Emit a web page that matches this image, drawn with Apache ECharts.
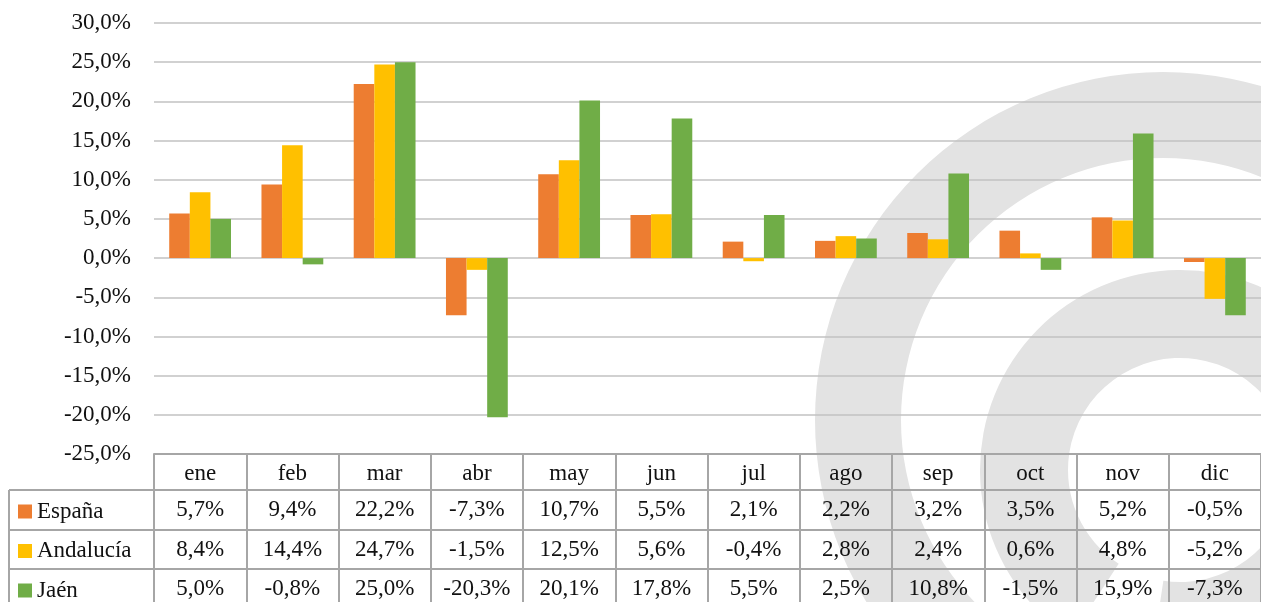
<!DOCTYPE html>
<html>
<head>
<meta charset="utf-8">
<script src="https://cdn.jsdelivr.net/npm/echarts@6/dist/echarts.min.js"></script>
<style>
  html, body { margin: 0; padding: 0; background: #fff; }
  #chart { width: 1261px; height: 602px; }
</style>
</head>
<body>
<div id="chart"></div>
<script>
var months = ['ene', 'feb', 'mar', 'abr', 'may', 'jun', 'jul', 'ago', 'sep', 'oct', 'nov', 'dic'];
var espana = [5.7, 9.4, 22.2, -7.3, 10.7, 5.5, 2.1, 2.2, 3.2, 3.5, 5.2, -0.5];
var andalucia = [8.4, 14.4, 24.7, -1.5, 12.5, 5.6, -0.4, 2.8, 2.4, 0.6, 4.8, -5.2];
var jaen = [5.0, -0.8, 25.0, -20.3, 20.1, 17.8, 5.5, 2.5, 10.8, -1.5, 15.9, -7.3];
var seriesNames = ['España', 'Andalucía', 'Jaén'];
var seriesColors = ['#ED7D31', '#FFC000', '#70AD47'];

var FONT = '"Liberation Serif", "DejaVu Serif", serif';
var FS = 23;
var fmt = function (v) { return v.toFixed(1).replace('.', ',') + '%'; };

var myChart = echarts.init(document.getElementById('chart'));

// table row centres (España, Andalucía, Jaén)
var rowY = [510, 549.5, 589];

// one legend per table row so each sits in its own cell
var legends = seriesNames.map(function (name, r) {
    return {
        orient: 'vertical',
        left: 18,
        top: rowY[r] - 10,
        padding: 0,
        itemWidth: 14,
        itemHeight: 14,
        icon: 'rect',
        selectedMode: false,
        data: [name],
        textStyle: { fontFamily: FONT, fontSize: FS, color: '#111', lineHeight: 20, padding: [0, 0, 0, 0] }
    };
});

var option = {
    animation: false,
    textStyle: { fontFamily: FONT },
    grid: { left: 154, right: 0, top: 23, bottom: 148 },
    legend: legends,
    xAxis: {
        type: 'category',
        data: months,
        axisLine: { onZero: false, lineStyle: { color: '#a6a6a6', width: 2 } },
        axisTick: { show: true, interval: 0, length: 148, lineStyle: { color: '#a6a6a6', width: 2 } },
        axisLabel: { interval: 0, margin: 8, fontFamily: FONT, fontSize: FS, color: '#111' },
        splitLine: { show: false }
    },
    yAxis: {
        type: 'value',
        min: -25,
        max: 30,
        interval: 5,
        axisLine: { show: false },
        axisTick: { show: false },
        axisLabel: {
            margin: 23,
            fontFamily: FONT,
            fontSize: FS,
            color: '#111',
            formatter: function (v) { return fmt(v); }
        },
        splitLine: { lineStyle: { color: '#c2c2c2', width: 1.5 } }
    },
    series: [
        { name: seriesNames[0], type: 'bar', data: espana, barGap: '0%', barCategoryGap: '33%',
          itemStyle: { color: seriesColors[0] } },
        { name: seriesNames[1], type: 'bar', data: andalucia, barGap: '0%', barCategoryGap: '33%',
          itemStyle: { color: seriesColors[1] } },
        { name: seriesNames[2], type: 'bar', data: jaen, barGap: '0%', barCategoryGap: '33%',
          itemStyle: { color: seriesColors[2] } }
    ]
};
myChart.setOption(option);

// table under the chart + watermark
var rows = [espana, andalucia, jaen];
var lineStyle = { stroke: '#a6a6a6', lineWidth: 2 };
var graphics = [
    { type: 'ring', z: -10, silent: true, shape: { cx: 1163, cy: 420, r: 348, r0: 262 }, style: { fill: '#e3e3e3' } },
    { type: 'sector', z: -10, silent: true,
      shape: { cx: 1180, cy: 470, r: 200, r0: 112, startAngle: 2.15, endAngle: 1.72 + Math.PI * 2, clockwise: true },
      style: { fill: '#e3e3e3' } },
    { type: 'line', z: 5, shape: { x1: 9, y1: 490, x2: 1261, y2: 490 }, style: lineStyle },
    { type: 'line', z: 5, shape: { x1: 9, y1: 530, x2: 1261, y2: 530 }, style: lineStyle },
    { type: 'line', z: 5, shape: { x1: 9, y1: 569, x2: 1261, y2: 569 }, style: lineStyle },
    { type: 'line', z: 5, shape: { x1: 9, y1: 490, x2: 9, y2: 602 }, style: lineStyle }
];
rows.forEach(function (vals, r) {
    vals.forEach(function (v, i) {
        var x = myChart.convertToPixel({ xAxisIndex: 0 }, i);
        graphics.push({
            type: 'text', z: 6,
            style: {
                text: fmt(v), x: x, y: rowY[r],
                textAlign: 'center', textVerticalAlign: 'middle',
                font: FS + 'px ' + FONT, fill: '#111'
            }
        });
    });
});
myChart.setOption({ graphic: graphics });
</script>
</body>
</html>
